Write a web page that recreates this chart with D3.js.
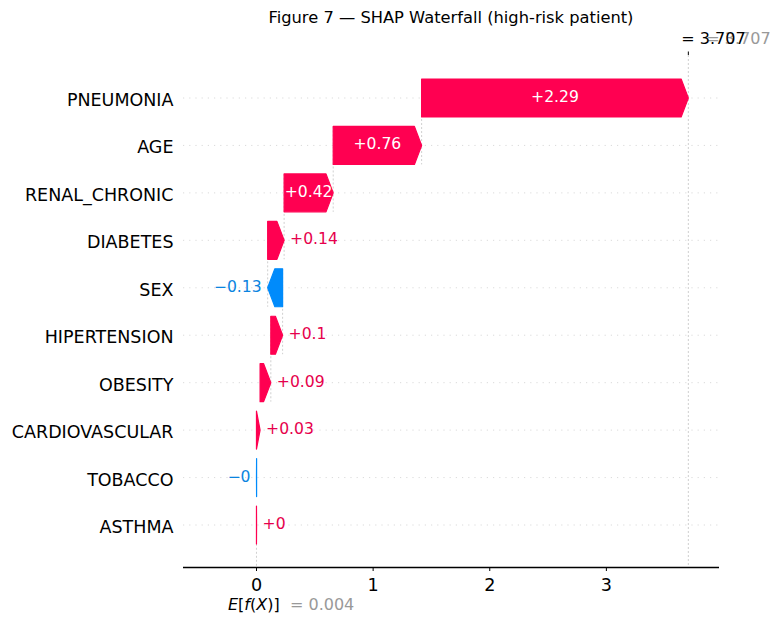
<!DOCTYPE html>
<html>
<head>
<meta charset="utf-8">
<script src="https://cdn.jsdelivr.net/npm/d3@7"></script>
<style>
  html, body { margin: 0; padding: 0; background: #fff; }
  svg { display: block; }
  text { font-family: "DejaVu Sans", sans-serif; }
</style>
</head>
<body>
<svg id="chart" width="781" height="623"></svg>
<script>
// ---- data (top row first) ----
const features = ["PNEUMONIA", "AGE", "RENAL_CHRONIC", "DIABETES", "SEX",
                  "HIPERTENSION", "OBESITY", "CARDIOVASCULAR", "TOBACCO", "ASTHMA"];
const shapValues = [2.287, 0.758, 0.421, 0.141, -0.128, 0.101, 0.092, 0.031, -0.001, 0.001];
const baseValue = 0.004;
const xTicks = [0, 1, 2, 3];
const titleText = "Figure 7 \u2014 SHAP Waterfall (high-risk patient)";

// ---- layout ----
const plotLeft = 183, plotRight = 719, plotTop = 55, plotBottom = 567;
const posColor = "#ff0051", negColor = "#008bfb";
const posText = "#e6004c", negText = "#0a84e0";

const svg = d3.select("#chart");

const fx = baseValue + d3.sum(shapValues);
const x = d3.scaleLinear().domain([-0.626, 3.97]).range([plotLeft, plotRight]);
const y = d3.scalePoint().domain(features).range([98, 525]);
const step = y.step();
const barH = 0.8 * step;

// compute bar extents going top-down (like shap)
let loc = fx;
const bars = features.map((f, i) => {
  const v = shapValues[i];
  const end = loc;
  loc -= v;
  const start = loc;
  return { f, v, start, end, i };
});

svg.append("defs").append("clipPath").attr("id", "plotclip")
  .append("rect").attr("x", plotLeft).attr("y", plotTop)
  .attr("width", plotRight - plotLeft).attr("height", plotBottom - plotTop);

const g = svg.append("g");
const under = g.append("g").attr("clip-path", "url(#plotclip)");

// horizontal row guides
under.selectAll("line.hrow").data(features).join("line")
  .attr("x1", plotLeft).attr("x2", plotRight)
  .attr("y1", d => y(d)).attr("y2", d => y(d))
  .attr("stroke", "#cccccc").attr("stroke-width", 0.7)
  .attr("stroke-dasharray", "1.2,5");

// final value line (full height)
under.append("line")
  .attr("x1", x(fx)).attr("x2", x(fx)).attr("y1", plotTop).attr("y2", plotBottom)
  .attr("stroke", "#bbbbbb").attr("stroke-width", 0.7).attr("stroke-dasharray", "2,2");

// base value line (bottom tenth)
under.append("line")
  .attr("x1", x(baseValue)).attr("x2", x(baseValue))
  .attr("y1", plotBottom - (plotBottom - plotTop) / features.length).attr("y2", plotBottom)
  .attr("stroke", "#bbbbbb").attr("stroke-width", 0.7).attr("stroke-dasharray", "2,2");

// connector lines (shap: only for i + 4 < n)
under.selectAll("line.conn").data(bars.filter(b => b.i + 4 < features.length)).join("line")
  .attr("x1", d => x(d.start)).attr("x2", d => x(d.start))
  .attr("y1", d => y(d.f) - 0.4 * step)
  .attr("y2", d => y(d.f) + 1.4 * step)
  .attr("stroke", "#bbbbbb").attr("stroke-width", 0.7).attr("stroke-dasharray", "2,2");

// arrows
const headLen = 7.2;
function arrowPath(b) {
  const x0 = x(b.start), x1 = x(b.end);
  const dir = x1 >= x0 ? 1 : -1;
  const w = Math.abs(x1 - x0);
  const hl = Math.min(w, headLen);
  const xb = x1 - dir * hl;
  const cy = y(b.f), t = cy - barH / 2, bt = cy + barH / 2;
  return `M${x0},${t}L${xb},${t}L${x1},${cy}L${xb},${bt}L${x0},${bt}Z`;
}
g.selectAll("path.bar").data(bars).join("path")
  .attr("d", arrowPath)
  .attr("fill", d => d.v >= 0 ? posColor : negColor)
  .attr("stroke", d => d.v >= 0 ? posColor : negColor)
  .attr("stroke-width", 1.2)
  .attr("stroke-linejoin", "round");

// value labels
function fmt(v) {
  const r = Math.round(v * 100) / 100;
  let s = String(Math.abs(r));
  if (r === 0) s = "0";
  return (v >= 0 ? "+" : "\u2212") + s;
}
const valFont = 15.6;
bars.forEach(b => {
  const x0 = x(b.start), x1 = x(b.end);
  const w = Math.abs(x1 - x0);
  const cy = y(b.f) + 4;
  const t = g.append("text")
    .attr("font-size", valFont)
    .attr("x", (x0 + x1) / 2).attr("y", cy)
    .attr("text-anchor", "middle")
    .attr("fill", "#ffffff")
    .text(fmt(b.v));
  const tw = t.node().getComputedTextLength();
  if (tw - 2 > w) {
    if (b.v >= 0) {
      t.attr("x", x1 + 6).attr("text-anchor", "start").attr("fill", posText);
    } else {
      t.attr("x", x1 - 6).attr("text-anchor", "end").attr("fill", negText);
    }
  }
});

// feature labels
g.selectAll("text.feat").data(features).join("text")
  .attr("x", 173.5).attr("y", d => y(d) + 8)
  .attr("text-anchor", "end").attr("font-size", 17.5).attr("fill", "#000")
  .text(d => d);

// bottom axis
const xAxis = d3.axisBottom(x).tickValues(xTicks).tickFormat(d3.format("d"))
  .tickSize(4).tickPadding(7.3);
const ax = g.append("g").attr("transform", `translate(0,${plotBottom})`).call(xAxis);
ax.select(".domain").attr("stroke", "#000").attr("stroke-width", 1.3).attr("d", `M${plotLeft},0.5H${plotRight}`);
ax.selectAll(".tick line").attr("stroke", "#000").attr("stroke-width", 1);
ax.selectAll(".tick text").attr("font-size", 17.6).attr("fill", "#000")
  .attr("font-family", "DejaVu Sans, sans-serif");

// base value annotation
g.append("text").attr("x", 228).attr("y", 610).attr("font-size", 16).attr("fill", "#000")
  .html('<tspan font-style="italic">E</tspan>[<tspan font-style="italic">f</tspan>(<tspan font-style="italic">X</tspan>)]');
g.append("text").attr("x", 290).attr("y", 610).attr("font-size", 16).attr("fill", "#999999")
  .text("= " + baseValue.toFixed(3));

// final value annotation (top)
g.append("line").attr("x1", x(fx)).attr("x2", x(fx)).attr("y1", plotTop).attr("y2", plotTop - 3.5)
  .attr("stroke", "#000").attr("stroke-width", 1);
g.append("text").attr("x", x(fx) + 18).attr("y", 43.5).attr("font-size", 16).attr("fill", "#999999")
  .text("= " + fx.toFixed(3));
g.append("text").attr("x", x(fx) - 7).attr("y", 43.5).attr("font-size", 16).attr("fill", "#000")
  .text("= " + fx.toFixed(3));

// title
g.append("text").attr("x", (plotLeft + plotRight) / 2).attr("y", 22.7)
  .attr("text-anchor", "middle").attr("font-size", 16.3).attr("fill", "#000")
  .text(titleText);
</script>
</body>
</html>
